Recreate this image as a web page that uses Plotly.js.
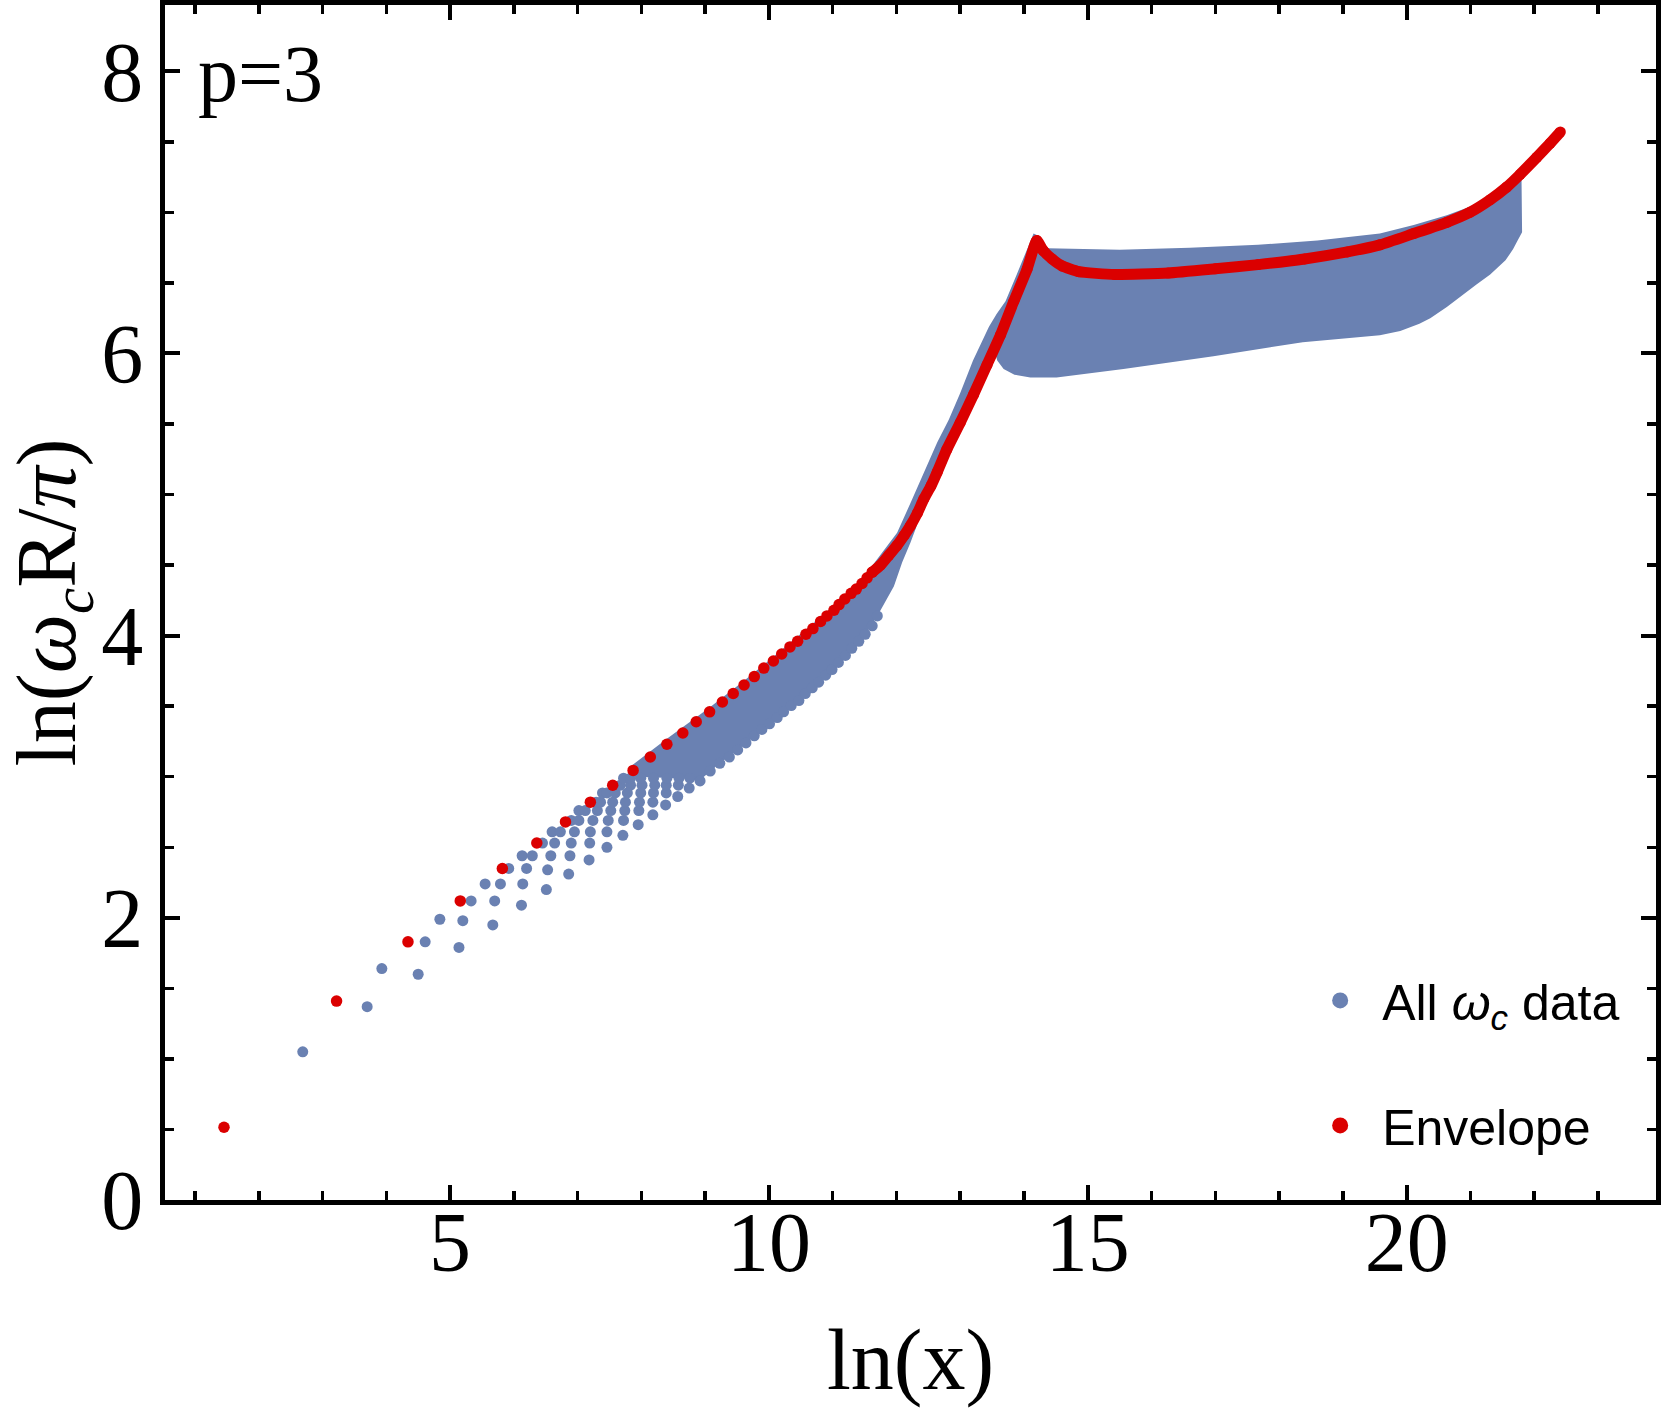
<!DOCTYPE html>
<html>
<head>
<meta charset="utf-8">
<script src="https://cdn.plot.ly/plotly-3.0.1.min.js"></script>
<style>
  html, body { margin: 0; padding: 0; background: #fff; }
  #chart { width: 1666px; height: 1408px; }
</style>
</head>
<body>
<div id="chart"></div>
<script>
// ── Data ─────────────────────────────────────
// individual omega_c points (sparse part, x < ~9)
const dotX = [
  2.69,
  3.70,
  3.93, 4.50,
  4.61, 5.14,
  4.84, 5.20, 5.67,
  5.33, 5.70, 6.12,
  5.55, 5.79, 6.14, 6.51,
  5.92, 6.20, 6.53, 6.86,
  6.13, 6.29, 6.58, 6.88, 7.18,
  6.45, 6.64, 6.90, 7.19, 7.46,
  6.60, 6.73, 6.95, 7.20, 7.46, 7.71,
  6.90, 7.02, 7.24, 7.48, 7.72, 7.95,
  7.02, 7.12, 7.31, 7.52, 7.74, 7.96, 8.18,
  7.29, 7.36, 7.55, 7.75, 7.97, 8.18, 8.38,
  7.39, 7.46, 7.59, 7.78, 7.99, 8.19, 8.39, 8.57,
  7.67, 7.83, 8.01, 8.21, 8.39, 8.58, 8.75,
  7.72, 7.83, 7.99, 8.19, 8.40, 8.59, 8.76, 8.92,
  9.08, 9.23, 9.38, 9.51, 9.64, 9.77, 9.89, 10.01, 10.13, 10.23,
  10.35, 10.47, 10.57, 10.68, 10.78, 10.89, 10.99, 11.09, 11.20,
  11.30, 11.41, 11.51, 11.62, 11.70,
];
const dotY = [
  1.05,
  1.37,
  1.64, 1.60,
  1.83, 1.79,
  1.99, 1.98, 1.95,
  2.12, 2.12, 2.09,
  2.24, 2.24, 2.24, 2.20,
  2.35, 2.35, 2.34, 2.31,
  2.44, 2.44, 2.44, 2.44, 2.41,
  2.53, 2.53, 2.53, 2.53, 2.50,
  2.61, 2.61, 2.61, 2.61, 2.61, 2.585,
  2.69, 2.69, 2.69, 2.69, 2.69, 2.66,
  2.76, 2.76, 2.76, 2.76, 2.76, 2.76, 2.73,
  2.82, 2.82, 2.82, 2.82, 2.82, 2.82, 2.80,
  2.885, 2.885, 2.885, 2.885, 2.885, 2.885, 2.885, 2.86,
  2.94, 2.94, 2.94, 2.94, 2.94, 2.94, 2.92,
  2.99, 2.99, 2.99, 2.99, 2.99, 2.99, 2.99, 2.97,
  3.04, 3.095, 3.14, 3.19, 3.24, 3.29, 3.335, 3.375, 3.42, 3.46,
  3.505, 3.54, 3.59, 3.63, 3.67, 3.72, 3.76, 3.81, 3.86,
  3.91, 3.96, 4.01, 4.07, 4.14,
];

// outline of the dense omega_c cloud (upper edge left->right, then lower edge back)
const bandX = [
  7.85, 8.40, 9.07, 9.61, 10.07, 10.58, 11.02, 11.46, 11.80, 12.01, 12.22,
  12.43, 12.64, 12.82, 13.00, 13.20, 13.35, 13.45, 13.57, 13.71, 13.95,
  14.15, 14.25, 14.37, 15.50, 16.60, 17.67, 18.60, 19.58, 20.11, 20.63,
  20.99, 21.31, 21.57, 21.80,
  21.81, 21.74, 21.67, 21.55, 21.43, 21.31, 21.10, 20.89, 20.63, 20.37,
  20.20, 19.90, 19.58, 18.37, 16.97, 15.56, 14.51, 14.10, 13.85, 13.68,
  13.58, 13.55, 13.42, 13.21, 13.00, 12.79, 12.64, 12.43, 12.32, 12.22,
  12.09, 11.96, 11.85, 11.70, 11.51, 11.30, 11.09, 10.89, 10.68, 10.47,
  10.23, 10.01, 9.77, 9.51, 9.23, 8.93, 8.60, 7.85,
];
const bandY = [
  3.08, 3.27, 3.49, 3.68, 3.85, 4.04, 4.21, 4.40, 4.60, 4.73, 4.94,
  5.16, 5.37, 5.53, 5.72, 5.95, 6.10, 6.19, 6.28, 6.37, 6.63,
  6.85, 6.83, 6.745, 6.735, 6.75, 6.77, 6.80, 6.85, 6.91, 6.98,
  7.04, 7.12, 7.20, 7.29,
  6.86, 6.80, 6.74, 6.66, 6.61, 6.56, 6.49, 6.42, 6.33, 6.25,
  6.21, 6.16, 6.13, 6.08, 5.98, 5.89, 5.83, 5.83, 5.85, 5.89,
  5.95, 6.00, 5.93, 5.72, 5.51, 5.32, 5.16, 4.97, 4.78, 4.66,
  4.52, 4.35, 4.26, 4.14, 4.01, 3.91, 3.81, 3.72, 3.63, 3.54,
  3.46, 3.375, 3.29, 3.19, 3.095, 2.98, 2.99, 3.00,
];

// envelope: separate points, then the continuous part
const envX = [
  1.455, 3.22, 4.34, 5.16, 5.82, 6.36, 6.81, 7.20, 7.55, 7.87, 8.14, 8.40,
  8.65, 8.86, 9.07, 9.27, 9.44, 9.61, 9.77, 9.92, 10.07, 10.20, 10.33,
  10.45, 10.58, 10.69, 10.81, 10.91, 11.02, 11.10, 11.19, 11.29, 11.37,
  11.46, 11.54, 11.62,
];
const envY = [
  0.516, 1.41, 1.83, 2.12, 2.35, 2.53, 2.68, 2.82, 2.94, 3.045, 3.14, 3.23,
  3.31, 3.39, 3.46, 3.53, 3.59, 3.65, 3.71, 3.77, 3.82, 3.87, 3.92,
  3.96, 4.01, 4.05, 4.10, 4.14, 4.18, 4.22, 4.26, 4.30, 4.33,
  4.37, 4.41, 4.45,
];
const envLineX = [
  11.62, 11.75, 11.88, 12.01, 12.12, 12.22, 12.33, 12.43, 12.54, 12.64,
  12.79, 13.00, 13.21, 13.42, 13.63, 13.84, 14.05, 14.20, 14.30, 14.44,
  14.60, 14.86, 15.42, 16.26, 17.00, 17.67, 18.40, 19.07, 19.58, 20.11,
  20.63, 20.99, 21.31, 21.57, 21.78, 22.04, 22.25, 22.41,
];
const envLineY = [
  4.45, 4.50, 4.57, 4.64, 4.71, 4.78, 4.87, 4.97, 5.06, 5.16,
  5.32, 5.51, 5.71, 5.92, 6.13, 6.37, 6.60, 6.80, 6.73, 6.67,
  6.62, 6.58, 6.56, 6.57, 6.60, 6.63, 6.67, 6.72, 6.77, 6.85,
  6.93, 7.00, 7.09, 7.18, 7.27, 7.39, 7.49, 7.57,
];

const BLUE = "#6a81b2";
const RED = "#db0000";
const SERIF = "Liberation Serif, Times New Roman, serif";
const SANS = "Liberation Sans, Arial, sans-serif";

// ── Traces ───────────────────────────────────
const traces = [
  {
    type: "scatter",
    mode: "lines",
    x: bandX,
    y: bandY,
    fill: "toself",
    fillcolor: BLUE,
    line: { color: BLUE, width: 0 },
    showlegend: false,
    hoverinfo: "skip",
  },
  {
    type: "scatter",
    mode: "markers",
    x: dotX,
    y: dotY,
    marker: { color: BLUE, size: 11 },
    showlegend: false,
  },
  {
    type: "scatter",
    mode: "lines+markers",
    x: envLineX,
    y: envLineY,
    line: { color: RED, width: 11, shape: "spline", smoothing: 0.5 },
    marker: { color: RED, size: 11 },
    showlegend: false,
  },
  {
    type: "scatter",
    mode: "markers",
    x: envX,
    y: envY,
    marker: { color: RED, size: 11.5 },
    showlegend: false,
  },
  // legend entries
  {
    type: "scatter",
    mode: "markers",
    x: [null],
    y: [null],
    name: "All <i>ω</i><sub><i>c</i></sub> data",
    marker: { color: BLUE, size: 16 },
    legend: "legend",
  },
  {
    type: "scatter",
    mode: "markers",
    x: [null],
    y: [null],
    name: "Envelope",
    marker: { color: RED, size: 16 },
    legend: "legend2",
  },
];

const axisBase = {
  showgrid: false,
  zeroline: false,
  showline: true,
  linecolor: "#000",
  linewidth: 5,
  mirror: "allticks",
  ticks: "inside",
  tickcolor: "#000",
  tickwidth: 4,
  ticklen: 15,
  tickfont: { family: SERIF, size: 84, color: "#000" },
  fixedrange: true,
};

const legendBase = {
  xanchor: "left",
  yanchor: "middle",
  bgcolor: "rgba(0,0,0,0)",
  borderwidth: 0,
  itemwidth: 74,
  font: { family: SANS, size: 50, color: "#000" },
};

const layout = {
  width: 1666,
  height: 1408,
  margin: { l: 165, r: 10, t: 5, b: 208 },
  paper_bgcolor: "#fff",
  plot_bgcolor: "#fff",
  showlegend: true,
  xaxis: {
    ...axisBase,
    range: [0.53, 23.91],
    tickvals: [5, 10, 15, 20],
    ticklabelstandoff: -35,
    minor: { dtick: 1, tick0: 0, ticks: "inside", ticklen: 9, tickwidth: 3.5, tickcolor: "#000" },
    title: {
      text: "ln(x)",
      font: { family: SERIF, size: 86, color: "#000" },
      standoff: 65,
    },
  },
  yaxis: {
    ...axisBase,
    range: [0, 8.47],
    tickvals: [0, 2, 4, 6, 8],
    minor: { dtick: 0.5, tick0: 0, ticks: "inside", ticklen: 9, tickwidth: 3.5, tickcolor: "#000" },
    title: {
      text: "ln(<i>ω</i><sub><i>c</i></sub>R/<i>π</i>)",
      font: { family: SERIF, size: 84, color: "#000" },
      standoff: 60,
    },
  },
  legend: { ...legendBase, x: 0.76, y: 0.167 },
  legend2: { ...legendBase, x: 0.76, y: 0.0624 },
  annotations: [
    {
      xref: "paper",
      yref: "paper",
      x: 0.021,
      y: 0.9425,
      xanchor: "left",
      yanchor: "middle",
      text: "p=3",
      showarrow: false,
      font: { family: SERIF, size: 80, color: "#000" },
    },
  ],
};

Plotly.newPlot("chart", traces, layout, { staticPlot: true, displayModeBar: false });
</script>
</body>
</html>
